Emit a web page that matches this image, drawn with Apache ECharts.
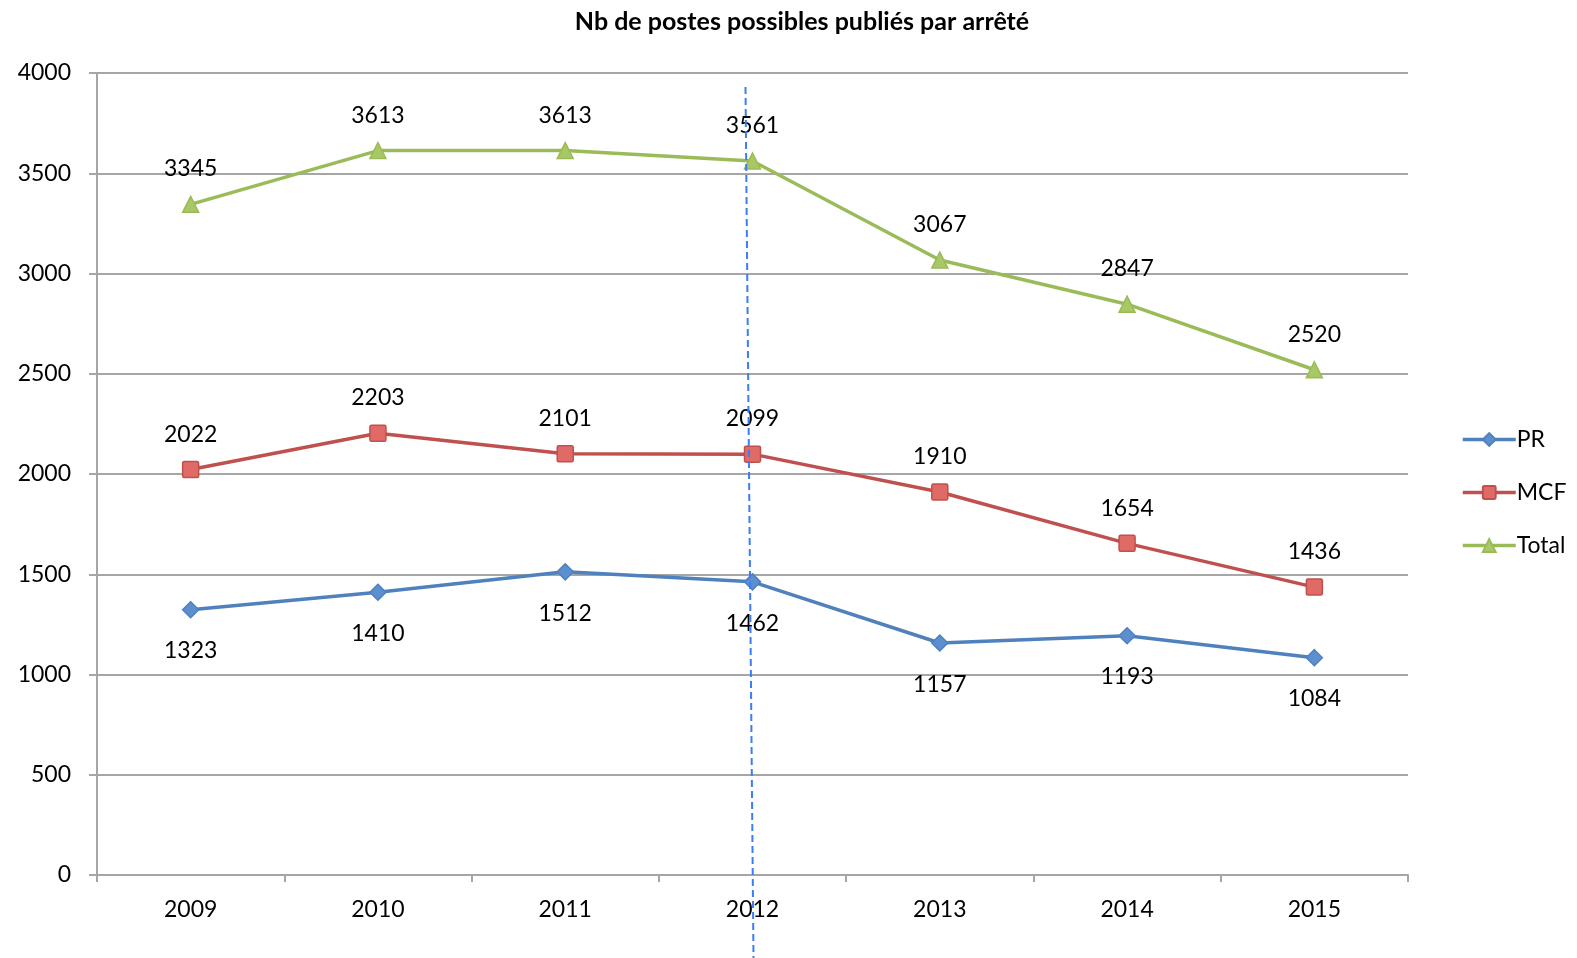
<!DOCTYPE html>
<html><head><meta charset="utf-8">
<script src="https://cdn.jsdelivr.net/npm/echarts@6/dist/echarts.min.js"></script>
<style>html,body{margin:0;padding:0;background:#fff}#c{width:1577px;height:958px}</style>
</head><body><div id="c"></div>
<script>
const years = ['2009','2010','2011','2012','2013','2014','2015'];
const pr = [1323,1410,1512,1462,1157,1193,1084];
const mcf = [2022,2203,2101,2099,1910,1654,1436];
const total = [3345,3613,3613,3561,3067,2847,2520];
const yTicks = {min:0, max:4000, interval:500};
const markerYear = '2012';

const FONT = 'Lato';
const chart = echarts.init(document.getElementById('c'));
function ser(name, data, color, fill, symbol, pos, dist){
  return {name, type:'line', data, symbol, symbolSize:16,
    lineStyle:{color, width:3.5}, itemStyle:{color:fill, borderColor:color, borderWidth:1.5},
    label:{show:true, position:pos, distance:dist, color:'#000', fontFamily:FONT, fontSize:23},
    emphasis:{disabled:true}, z:3};
}
chart.setOption({
  animation:false,
  title:{text:'Nb de postes possibles publiés par arrêté', left:797, textAlign:'center', top:4,
    textStyle:{fontFamily:FONT, fontWeight:'bold', fontSize:25, color:'#000'}},
  grid:{left:97, right:169, top:73, bottom:83},
  legend:{orient:'vertical', left:1456, top:423, itemWidth:53, itemHeight:16, itemGap:30,
    lineStyle:{width:3.5},
    textStyle:{fontFamily:FONT, fontSize:23, color:'#000', padding:[0,0,0,-4]},
    data:['PR','MCF','Total']},
  xAxis:{type:'category', data:years, boundaryGap:true,
    axisLine:{lineStyle:{color:'#a6a6a6', width:2}},
    axisTick:{show:true, length:7, lineStyle:{color:'#a6a6a6', width:2}},
    axisLabel:{fontFamily:FONT, fontSize:23, color:'#000', margin:23}},
  yAxis:{type:'value', min:yTicks.min, max:yTicks.max, interval:yTicks.interval,
    axisLine:{show:true, lineStyle:{color:'#a6a6a6', width:2}},
    axisTick:{show:true, length:8, lineStyle:{color:'#a6a6a6', width:2}},
    splitLine:{lineStyle:{color:'#a6a6a6', width:2}},
    axisLabel:{fontFamily:FONT, fontSize:23, color:'#000', margin:26, formatter:v=>String(v)}},
  series:[
    ser('PR', pr, '#4F81BD', '#5b8fd0', 'diamond', 'bottom', 21),
    ser('MCF', mcf, '#C0504D', '#e06a66', 'path://M2,0 L18,0 Q20,0 20,2 L20,18 Q20,20 18,20 L2,20 Q0,20 0,18 L0,2 Q0,0 2,0 Z', 'top', 15),
    ser('Total', total, '#9BBB59', '#a8c865', 'triangle', 'top', 15)
  ]
});
const cx = chart.convertToPixel({xAxisIndex:0}, markerYear);
chart.setOption({graphic:[{type:'line', z:10,
  shape:{x1:cx-7, y1:87, x2:cx+1, y2:958},
  style:{stroke:'#3b7df5', lineWidth:2, lineDash:[7,4]}}]});
</script></body></html>
